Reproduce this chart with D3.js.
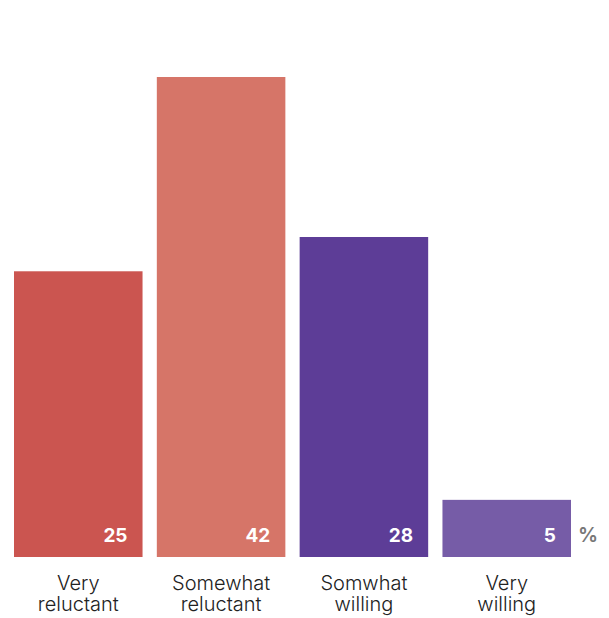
<!DOCTYPE html>
<html>
<head>
<meta charset="utf-8">
<script src="https://cdn.jsdelivr.net/npm/d3@7"></script>
<style>
  html, body { margin: 0; padding: 0; background: #fff; }
  svg { display: block; }
</style>
</head>
<body>
<svg id="chart" width="609" height="618"></svg>
<script>
// Share of respondents by willingness (%)
const categories = ["Very reluctant", "Somewhat reluctant", "Somwhat willing", "Very willing"];
const labelLines = [["Very", "reluctant"], ["Somewhat", "reluctant"], ["Somwhat", "willing"], ["Very", "willing"]];
const values = [25, 42, 28, 5];
const colors = ["#cb5550", "#d67568", "#5d3d97", "#765ca7"];

const svg = d3.select("#chart");
const baseY = 557;

const x = d3.scaleBand()
  .domain(categories)
  .range([14, 571])
  .paddingInner(0.1)
  .paddingOuter(0);

const y = d3.scaleLinear()
  .domain([0, 42])
  .range([baseY, 77]);

const g = svg.append("g");

g.selectAll("rect.bar")
  .data(values)
  .join("rect")
  .attr("class", "bar")
  .attr("x", (d, i) => x(categories[i]))
  .attr("y", d => y(d))
  .attr("width", x.bandwidth())
  .attr("height", d => baseY - y(d))
  .attr("fill", (d, i) => colors[i]);

g.selectAll("text.val")
  .data(values)
  .join("text")
  .attr("class", "val")
  .attr("x", (d, i) => x(categories[i]) + x.bandwidth() - 15)
  .attr("y", baseY - 15)
  .attr("text-anchor", "end")
  .attr("font-family", "Inter, Roboto, sans-serif")
  .attr("font-weight", 700)
  .attr("font-size", 19)
  .attr("fill", "#fff")
  .text(d => d);

svg.append("text")
  .attr("x", 578)
  .attr("y", baseY - 15)
  .attr("font-family", "Inter, Roboto, sans-serif")
  .attr("font-weight", 600)
  .attr("font-size", 20)
  .attr("fill", "#777")
  .text("%");

const cat = g.selectAll("text.cat")
  .data(categories)
  .join("text")
  .attr("class", "cat")
  .attr("text-anchor", "middle")
  .attr("font-family", "Inter, Roboto, sans-serif")
  .attr("font-weight", 300)
  .attr("font-size", 20)
  .attr("fill", "#222")
  .attr("transform", d => `translate(${x(d) + x.bandwidth() / 2},0)`);

cat.selectAll("tspan")
  .data((d, i) => labelLines[i])
  .join("tspan")
  .attr("x", 0)
  .attr("y", (d, j) => 590 + j * 21)
  .text(d => d);
</script>
</body>
</html>
